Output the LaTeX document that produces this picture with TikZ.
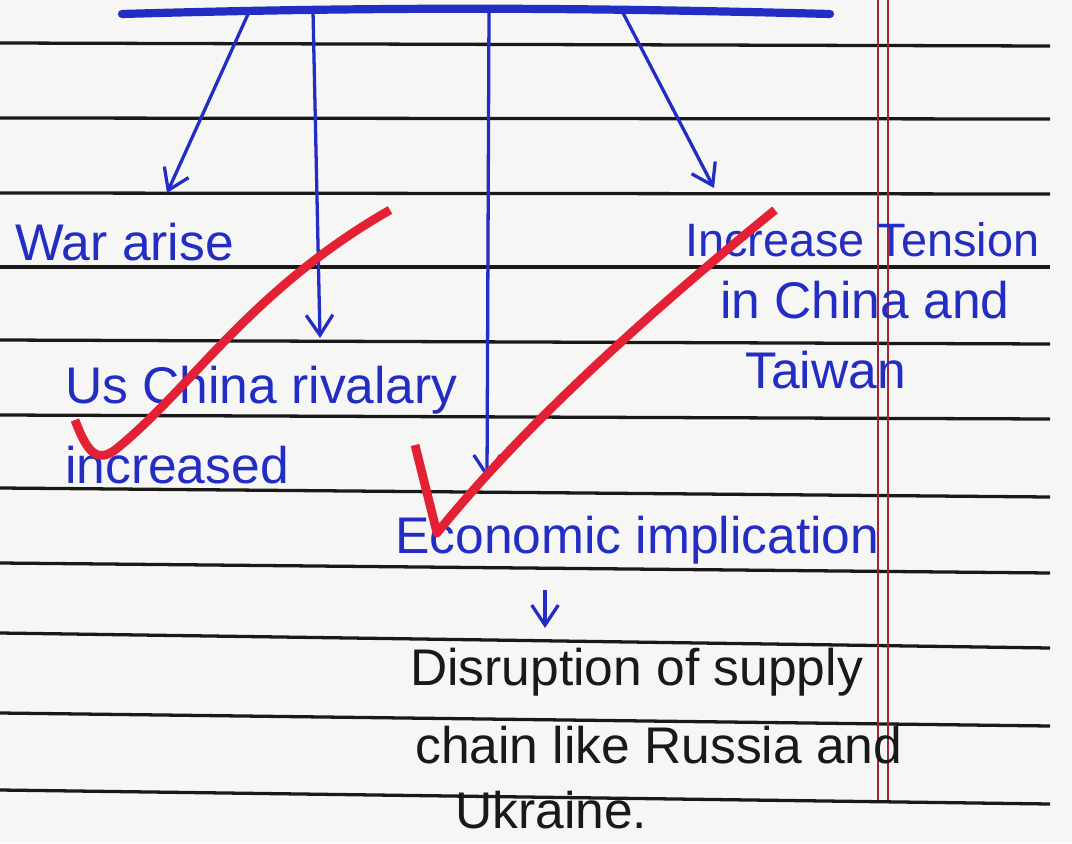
\documentclass[tikz,border=0pt]{standalone}
\usepackage{fontspec}
\setmainfont{Liberation Sans}
\usetikzlibrary{arrows.meta}

\begin{document}
\begin{tikzpicture}[x=0.03cm, y=-0.03cm,
    hand/.style={anchor=west, inner sep=0pt, text=ink, font=\fontsize{44}{50}\selectfont},
    handblack/.style={hand, text=pencil},
    pen/.style={ink, line width=2.8pt, -{Straight Barb[length=6mm, width=8mm, line width=2.8pt]}},
    tick/.style={redpen, line width=7.5pt, line join=round}]
% Define colors
\definecolor{paper}{RGB}{246,246,244}
\definecolor{ink}{RGB}{35,45,195}
\definecolor{pencil}{RGB}{25,25,25}
\definecolor{redpen}{RGB}{228,32,52}
\definecolor{margin}{RGB}{165,35,55}

\fill[paper] (0,0) rectangle (1072,843);
\useasboundingbox (0,0) rectangle (1072,843);

% Ruled lines
\foreach \yl/\yr in {43/46, 118/119, 193/194, 267/267, 340/344, 415/419,
                     488/497, 563/573, 633/648, 713/726, 790/804}
        \draw[pencil, line width=2.8pt] (0,\yl) -- (1050,\yr);

% Margin
\draw[margin, line width=1.3pt] (878,0) -- (878,800);
\draw[margin, line width=1.3pt] (888,0) -- (888,800);

% Top bar
\draw[ink, line width=7pt, line cap=round] (122,14) .. controls (400,6) and (600,8) .. (830,14);
\coordinate (top1) at (249,12);
\coordinate (top2) at (313,11);
\coordinate (top3) at (489,10);
\coordinate (top4) at (622,11);
\coordinate (tip1) at (167,193);
\coordinate (tip2) at (320,338);
\coordinate (tip3) at (487,478);
\coordinate (tip4) at (714,188);

% Text
\node[hand] (war) at (15,242) {War arise};
\node[hand] (rival) at (65,390) {Us China rivalary};
\node[hand] (incd) at (65,465) {increased};
\node[hand, font=\fontsize{40}{46}\selectfont] (tension) at (685,240) {Increase Tension};
\node[hand] (china) at (720,300) {in China and};
\node[hand] (taiwan) at (745,370) {Taiwan};
\node[hand] (econ) at (395,540) {Economic implication};
\node[handblack] (disr) at (410,672) {Disruption of supply};
\node[handblack] (chain) at (415,745) {chain like Russia and};
\node[handblack] (ukr) at (455,810) {Ukraine.};
\coordinate (down1) at (545,590);
\coordinate (down2) at (545,628);

% Arrows
\draw[pen] (top1) -- (tip1);
\draw[pen] (top2) -- (tip2);
\draw[pen] (top3) -- (tip3);
\draw[pen] (top4) -- (tip4);
\draw[pen] (down1) -- (down2);

% Red ticks
\draw[tick] (75,420) .. controls (88,455) and (98,462) .. (115,450)
        .. controls (190,390) and (250,290) .. (390,210);
\draw[tick] (415,445) -- (437,533) .. controls (520,430) and (640,320) .. (775,210);
\end{tikzpicture}
\end{document}
